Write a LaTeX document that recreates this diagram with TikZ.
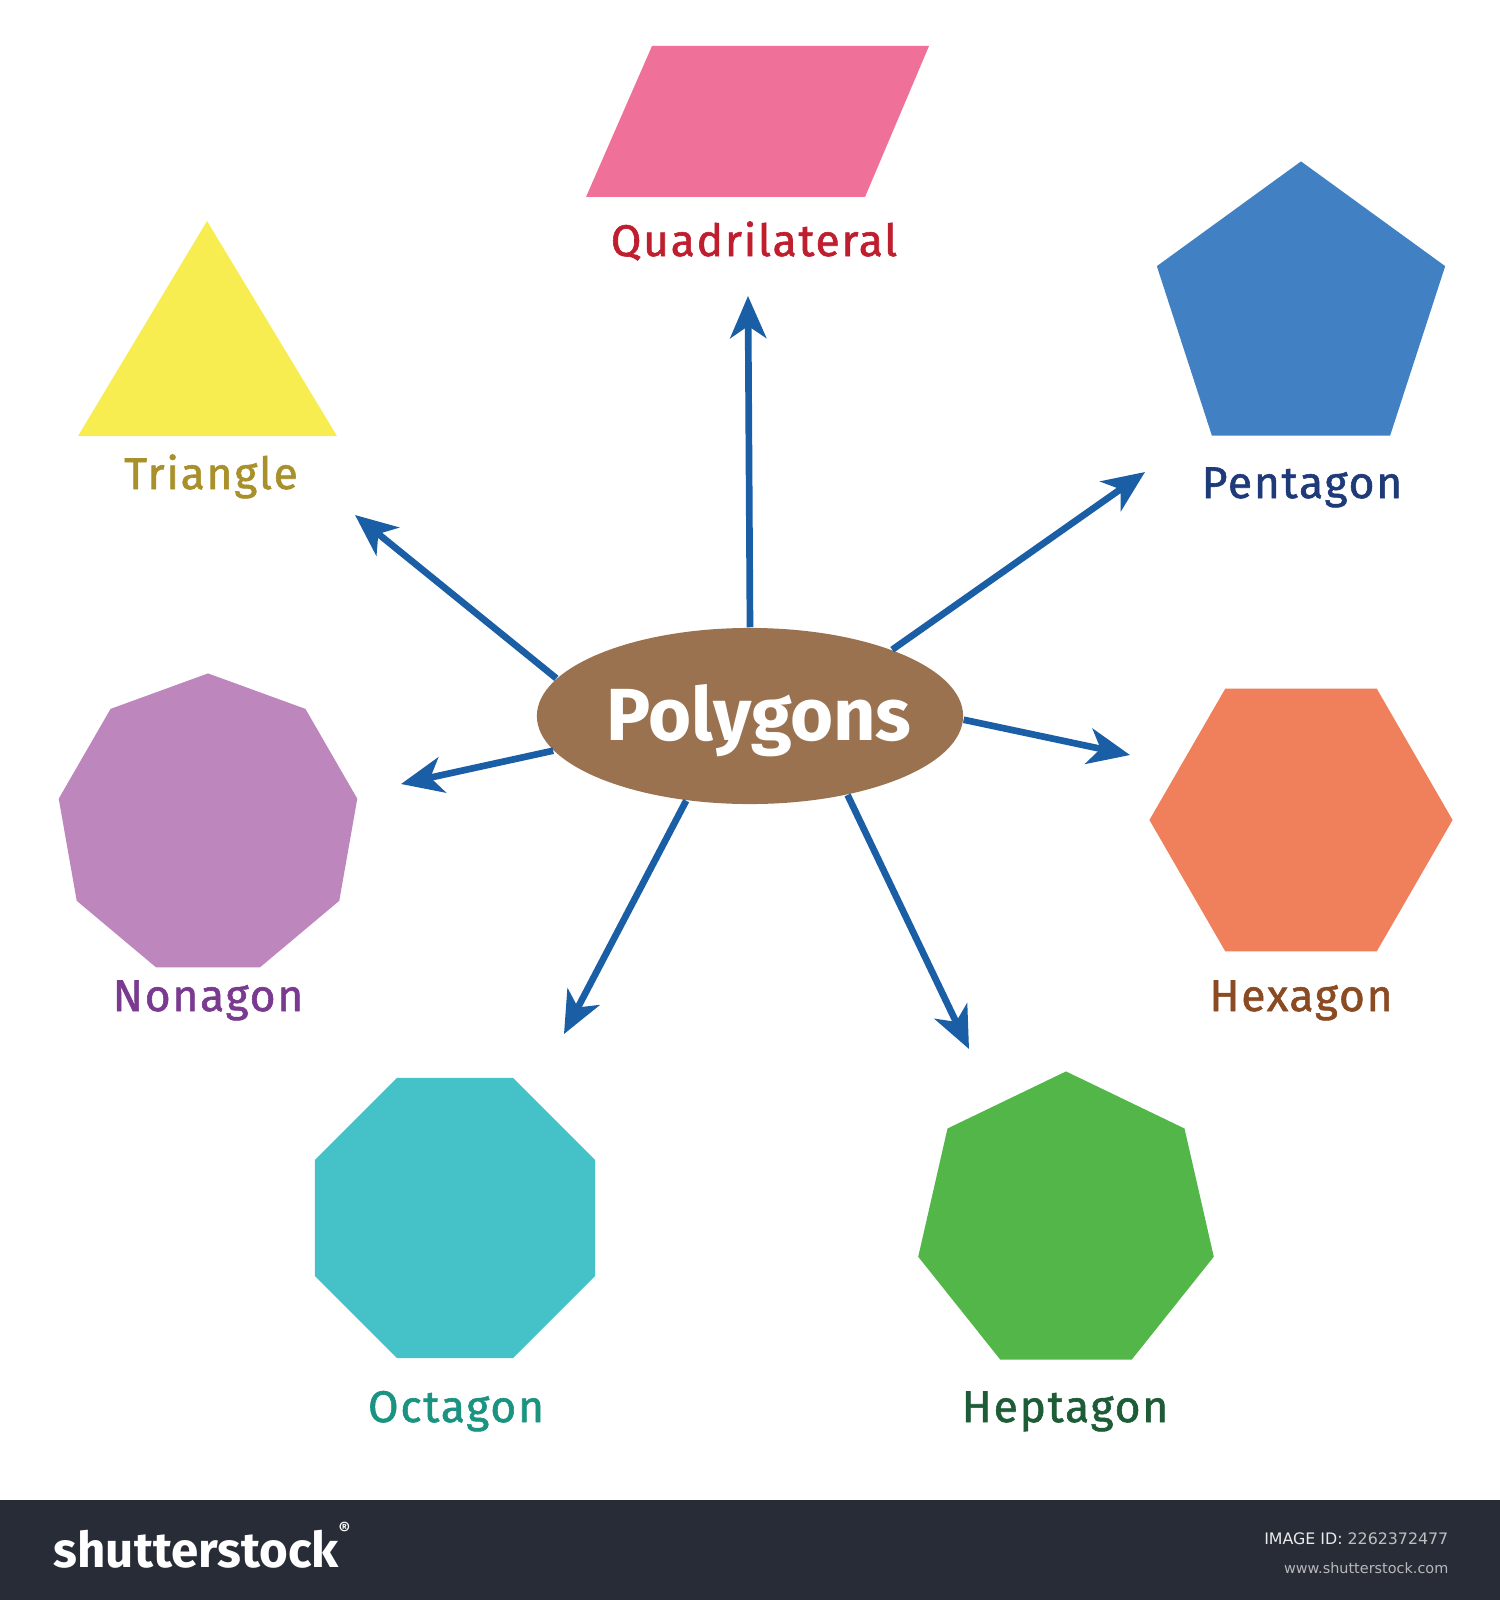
\documentclass[tikz,border=0pt]{standalone}
\usepackage{fontspec}
\setmainfont{Fira Sans}
\newfontfamily\lblfont[LetterSpace=4,FakeBold=1.3]{Fira Sans}
\newfontfamily\barfont{DejaVu Sans}
\usetikzlibrary{arrows.meta,shapes.geometric}
\definecolor{quadPink}{HTML}{EF7199}
\definecolor{quadText}{HTML}{BE1E2D}
\definecolor{triYellow}{HTML}{F8ED50}
\definecolor{triText}{HTML}{A8902A}
\definecolor{pentBlue}{HTML}{4080C3}
\definecolor{pentText}{HTML}{1E3A78}
\definecolor{hexOrange}{HTML}{F0805C}
\definecolor{hexText}{HTML}{8A4A22}
\definecolor{heptGreen}{HTML}{52B748}
\definecolor{heptText}{HTML}{1D5C36}
\definecolor{octTeal}{HTML}{45C1C8}
\definecolor{octText}{HTML}{1A9480}
\definecolor{nonaViolet}{HTML}{BD86BC}
\definecolor{nonaText}{HTML}{7A3A90}
\definecolor{hubBrown}{HTML}{9A7250}
\definecolor{arrowBlue}{HTML}{1A5EA6}
\definecolor{barDark}{HTML}{272C37}

\begin{document}
\begin{tikzpicture}[x=0.01cm,y=-0.01cm,
    ngon/.style={regular polygon, regular polygon sides=#1, minimum size=3.03cm, inner sep=0pt},
    lbl/.style={font=\lblfont\fontsize{12.6pt}{14pt}\selectfont, anchor=base},
    arr/.style={draw=arrowBlue, line width=1.9pt, -{Stealth[length=0.42cm,width=0.36cm,inset=0.12cm]}}]
        \useasboundingbox (0,0) rectangle (1500,1600);

        % centre
        \node[ellipse, fill=hubBrown, minimum width=4.26cm, minimum height=1.76cm, inner sep=0pt] (hub) at (750,716) {};
        \node[anchor=base, text=white, font=\bfseries\fontsize{21pt}{24pt}\selectfont] (hubtext) at (759,740) {Polygons};

        % Quadrilateral
        \fill[quadPink] (652,46) -- (929,46) -- (865,197) -- (586,197) -- cycle;
        \node[lbl, text=quadText] (quadlbl) at (754,256) {Quadrilateral};

        % Triangle
        \fill[triYellow] (207,221) -- (337,436) -- (78,436) -- cycle;
        \node[lbl, text=triText] (trilbl) at (211,489) {Triangle};

        % Pentagon
        \node[ngon=5, fill=pentBlue] (penta) at (1301,313) {};
        \node[lbl, text=pentText] (pentlbl) at (1302,498) {Pentagon};

        % Hexagon
        \node[ngon=6, fill=hexOrange] (hexa) at (1301,820) {};
        \node[lbl, text=hexText] (hexlbl) at (1301,1011) {Hexagon};

        % Heptagon
        \node[ngon=7, fill=heptGreen] (hepta) at (1066,1223) {};
        \node[lbl, text=heptText] (heptlbl) at (1065,1422) {Heptagon};

        % Octagon
        \node[ngon=8, fill=octTeal] (octa) at (455,1218) {};
        \node[lbl, text=octText] (octlbl) at (456,1422) {Octagon};

        % Nonagon
        \node[ngon=9, fill=nonaViolet] (nona) at (208,825) {};
        \node[lbl, text=nonaText] (nonalbl) at (208,1011) {Nonagon};

        % arrow tips
        \coordinate (tipQuad) at (748,296);
        \coordinate (tipPent) at (1145,472);
        \coordinate (tipHex) at (1130,755);
        \coordinate (tipHept) at (969,1049);
        \coordinate (tipOct) at (564,1034);
        \coordinate (tipNona) at (401,784);
        \coordinate (tipTri) at (355,515);

        \draw[arr] (hub.90.5) -- (tipQuad);
        \draw[arr] (hub.25) -- (tipPent);
        \draw[arr] (hub.-1) -- (tipHex);
        \draw[arr] (hub.-39.5) -- (tipHept);
        \draw[arr] (hub.233.5) -- (tipOct);
        \draw[arr] (hub.190.5) -- (tipNona);
        \draw[arr] (hub.169.2) -- (tipTri);

        % bottom bar
        \fill[barDark] (0,1500) rectangle (1500,1600);
        \node[anchor=base west, inner sep=0pt, text=white, font=\bfseries\fontsize{14pt}{16pt}\selectfont] (logo) at (53,1567) {shutterstock\raisebox{1.2ex}{\fontsize{5pt}{5pt}\selectfont ®}};
        \node[anchor=base east, inner sep=0pt, font=\barfont\fontsize{4.5pt}{6pt}\selectfont] (imgid) at (1449,1544) {\textcolor{white!92!black}{IMAGE ID:} \textcolor{white!75!black}{2262372477}};
        \node[anchor=base east, inner sep=0pt, text=white!72!black, font=\barfont\fontsize{4.1pt}{6pt}\selectfont] (site) at (1449,1573) {www.shutterstock.com};
\end{tikzpicture}
\end{document}
